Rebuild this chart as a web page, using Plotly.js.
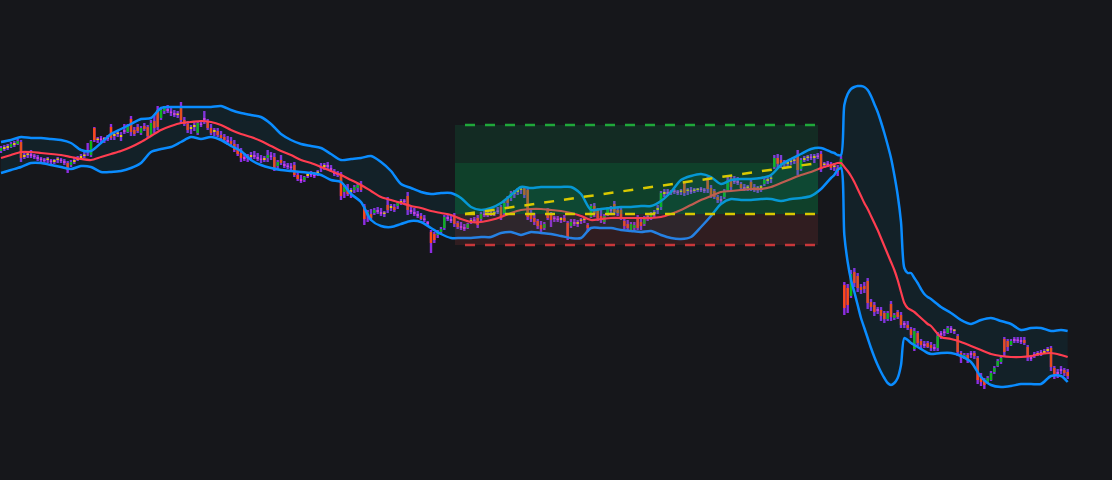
<!DOCTYPE html>
<html><head><meta charset="utf-8">
<script src="https://cdn.plot.ly/plotly-3.0.1.min.js"></script>
<style>html,body{margin:0;padding:0;background:#16171b;overflow:hidden}#chart{width:1112px;height:480px}</style>
</head><body><div id="chart"></div>
<script>
// ---- candle data (one entry per bar) ----
const openP = [
329,331,332,333,335,336,338,323,325,326,
324,323,321,320,320,319,318,320,320,319,
317,315,318,320,322,324,328,325,352,340,
341,340,342,353,344,346,343,350,348,361,
350,353,347,354,353,345,359,370,362,369,
371,368,367,365,374,360,356,351,353,347,
356,362,359,352,348,349,345,343,340,339,
336,332,327,323,322,323,325,323,321,320,
322,324,323,314,320,316,314,313,315,305,
301,300,304,306,305,307,312,313,315,312,
308,306,306,288,292,288,290,292,296,274,
264,266,267,270,268,266,275,272,273,274,
277,279,284,270,268,266,264,261,258,248,
246,245,248,252,263,261,264,257,254,253,
252,258,260,262,261,266,265,267,266,269,
273,267,282,282,286,288,290,292,290,266,
262,259,255,252,270,265,262,261,260,262,
257,254,258,256,259,260,255,263,274,270,
264,258,267,271,276,270,270,259,256,250,
252,263,258,256,262,262,266,270,273,286,
288,287,289,288,288,297,289,290,289,290,
291,290,300,292,289,283,281,283,290,302,
300,299,296,293,292,298,293,291,292,296,
299,301,313,322,320,317,316,318,319,325,
311,320,322,323,322,324,326,315,316,315,
313,312,313,195,192,184,208,204,193,194,
199,178,175,171,170,167,161,176,162,168,
165,157,155,151,131,147,139,136,137,135,
133,132,147,148,147,152,149,144,127,122,
125,127,127,122,104,99,97,100,108,114,
118,141,139,135,141,140,140,140,133,123,
126,125,128,127,129,132,112,108,111,110,
108];
const highP = [
334,335,336,338,339,341,340,327,328,330,
326,325,323,322,323,321,321,323,322,321,
319,320,322,324,326,328,337,340,353,343,
344,343,345,356,348,350,348,356,356,364,
353,356,354,357,355,360,365,374,372,374,
375,372,370,369,378,363,359,355,358,359,
359,369,361,356,352,352,349,346,344,343,
340,336,332,327,326,328,329,327,325,324,
330,328,327,320,325,319,317,317,318,308,
305,304,308,309,308,310,317,317,318,315,
311,309,308,295,296,292,295,297,299,276,
270,271,272,273,272,269,283,276,276,279,
281,281,288,273,272,269,267,265,259,250,
248,250,253,265,266,265,267,259,258,256,
257,262,263,265,268,269,268,269,269,273,
275,279,284,289,290,292,293,294,292,270,
267,261,259,258,272,268,264,264,263,265,
259,261,261,260,262,263,257,276,277,272,
270,266,273,274,279,273,273,261,260,258,
258,265,262,264,265,268,270,275,289,291,
291,290,291,290,291,299,292,293,292,292,
293,292,303,295,291,285,284,291,303,304,
304,303,298,296,295,300,296,294,295,302,
303,304,325,326,325,320,319,321,322,330,
322,324,325,326,326,327,329,318,319,318,
317,315,324,198,196,210,212,207,196,198,
202,181,178,173,173,169,169,179,167,170,
168,159,159,153,152,149,141,139,139,138,
136,148,149,151,154,154,151,146,129,127,
127,129,129,124,107,102,104,109,114,121,
124,143,141,141,143,143,143,143,135,125,
128,129,130,131,133,134,114,111,114,112,
111];
const lowP = [
327,329,330,332,333,335,318,321,322,322,
321,319,318,316,317,316,316,317,317,315,
307,313,316,319,320,322,324,323,338,337,
338,337,339,340,340,343,339,346,347,344,
344,347,345,349,342,344,347,350,360,366,
367,364,363,362,357,354,347,346,349,345,
353,356,350,345,344,343,340,338,335,334,
328,324,318,319,318,320,321,319,317,318,
318,320,309,311,315,312,311,310,303,299,
297,298,302,303,302,304,308,310,311,308,
304,303,280,282,284,282,287,288,288,255,
258,259,265,266,264,263,267,269,268,271,
275,276,265,266,264,262,260,258,255,227,
237,242,246,250,259,257,253,251,250,249,
251,256,257,252,259,263,263,264,264,266,
260,265,272,279,282,285,286,282,260,258,
255,251,248,250,260,253,258,258,257,258,
240,252,254,253,256,257,248,262,263,259,
257,256,264,267,265,264,260,251,250,248,
249,250,250,254,259,260,262,266,270,283,
284,285,286,285,285,284,285,286,287,288,
288,287,287,282,281,277,276,281,288,290,
296,295,290,289,289,289,288,287,288,294,
296,297,311,312,312,313,313,315,316,305,
309,318,319,320,317,321,308,312,313,310,
309,304,311,165,167,182,193,188,186,187,
171,169,164,166,159,157,159,159,160,161,
152,152,150,142,129,134,131,132,132,129,
129,129,141,144,146,147,146,124,117,121,
117,122,121,96,94,91,96,99,106,113,
116,124,129,134,137,137,136,135,119,119,
122,124,124,126,128,109,101,102,106,104,
101];
const closeP = [
332,333,334,336,337,339,322,325,326,324,
323,321,320,319,321,318,320,321,319,317,
310,318,320,322,324,325,330,339,340,341,
340,342,341,342,346,347,345,348,354,348,
346,349,352,351,344,357,352,353,370,372,
369,367,365,366,360,356,350,353,355,357,
355,360,352,347,350,345,342,340,338,336,
330,326,322,321,323,325,323,321,320,322,
325,323,312,318,317,314,313,312,305,301,
299,303,306,305,304,308,314,315,313,310,
306,305,284,293,286,290,293,295,290,261,
268,262,270,268,266,267,270,274,270,277,
279,278,270,268,266,264,261,260,256,237,
240,248,251,263,261,259,256,253,252,251,
256,260,259,255,266,265,267,266,268,268,
263,277,277,287,288,290,291,285,263,261,
258,254,251,256,262,260,261,260,262,259,
243,258,256,258,260,261,252,274,266,262,
261,264,271,269,268,267,262,254,252,256,
255,252,254,262,263,266,268,272,287,288,
286,289,288,287,289,287,290,288,290,291,
290,289,291,285,283,280,279,289,300,293,
298,297,292,291,293,291,290,292,294,300,
301,302,322,316,317,316,318,319,320,310,
320,322,323,322,324,323,312,316,315,312,
314,308,321,172,175,206,197,192,190,191,
177,173,168,169,164,161,167,163,165,163,
155,155,152,145,149,137,135,134,133,132,
131,144,145,147,152,150,150,128,122,125,
120,125,124,100,98,95,102,107,112,119,
122,128,133,139,139,139,138,137,123,121,
124,127,126,129,131,113,106,106,109,107,
104];

// ---- Bollinger band readings (bar index -> value) ----
const bandIdx = [
0,3,6,9,12,15,18,21,24,27,30,33,36,39,42,45,48,51,54,57,
60,63,66,69,72,75,78,81,84,87,90,93,96,99,102,105,108,111,114,117,
120,123,126,129,132,135,138,141,144,147,150,153,156,159,162,165,168,171,174,177,
180,183,186,189,192,195,198,201,204,207,210,213,216,219,222,225,228,231,234,237,
240,243,246,249,
250,251,252,253,254,255,256,257,258,259,260,261,262,263,264,265,266,267,268,269,
270,271,272,273,274,275,276,277,278,279,
282,285,288,291,294,297,300,303,306,309,312,315,318,320];
const upperBand = [
338,340,343,342,342,341,340,337,330,329,337,346,351,356,361,362,372,373,373,373,
373,373,374,370,367,365,363,356,346,340,336,334,332,326,320,321,322,324,318,309,
296,292,288,286,287,287,282,273,270,272,277,285,293,292,293,293,293,293,286,270,
271,272,273,273,274,274,279,288,300,304,306,303,296,300,301,301,302,305,315,321,
326,331,332,328,
327,325,325,375,386,391,393,394,394,393,390,384,376,368,358,347,335,322,305,285,
258,212,207,207,202,197,191,186,183,181,
173,167,160,156,160,162,159,156,150,152,152,149,150,149];
const middleBand = [
322,325,328,328,327,326,325,323,321,320,323,326,329,333,338,344,350,354,357,358,
359,358,355,350,346,343,339,334,329,325,320,317,313,309,305,300,295,289,283,280,
277,274,272,269,267,265,261,258,258,260,263,267,270,271,271,270,269,267,264,260,
261,262,262,262,262,262,263,266,270,275,280,284,288,289,290,291,291,293,297,301,
305,308,312,315,
316,317,317,313,309,304,298,291,284,277,271,264,257,250,242,234,226,218,210,200,
188,177,172,170,168,165,162,159,156,154,
143,141,138,134,130,126,124,123,123,124,126,127,125,123];
const lowerBand = [
307,310,313,317,317,315,313,311,314,313,308,308,309,312,317,328,331,333,338,343,
341,343,340,334,329,320,315,312,310,309,308,307,305,300,298,286,278,260,254,253,
256,259,258,252,246,242,242,242,243,243,247,248,245,248,247,246,244,242,242,252,
252,252,250,249,248,249,245,242,241,243,253,264,276,281,280,280,281,281,279,281,
282,284,291,302,
305,310,312,245,218,200,188,175,162,152,142,132,123,115,108,102,97,95,97,102,
115,142,140,137,135,133,131,129,127,126,
127,127,124,118,103,95,93,94,96,96,96,104,104,98];

// ---- trade setup levels ----
const stopLevel = 235;
const entryLevel = 266;
const target1 = 317;
const target2 = 355;

// ---- layout constants ----
const zoneStart = 136.2, entryStart = 139.2, zoneEnd = 245.1;
const BG = '#16171b';
const BAND = '#0a8cff';
const MID = '#ff3d50';
const UP = '#10b810', DOWN = '#ff4a12', UPSMALL = '#ffd000', DOWNSMALL = '#e43ce4', WICK = '#8e2de2';

const idx = openP.map((_, i) => i);
const wickLen = highP.map((h, i) => h - lowP[i]);
const bodyBase = openP.map((o, i) => Math.min(o, closeP[i]));
const bodyLen = openP.map((o, i) => Math.max(Math.abs(closeP[i] - o), 1.5));
const bodyColor = openP.map((o, i) => {
  const d = closeP[i] - o;
  if (Math.abs(d) <= 2) return d >= 0 ? UPSMALL : DOWNSMALL;
  return d > 0 ? UP : DOWN;
});

const traces = [
  {type:'scatter', mode:'lines', x:bandIdx, y:lowerBand, line:{color:BAND, width:2.5, shape:'spline', smoothing:0.8}, hoverinfo:'skip'},
  {type:'scatter', mode:'lines', x:bandIdx, y:upperBand, fill:'tonexty', fillcolor:'rgba(0,130,160,0.10)', line:{color:BAND, width:2.5, shape:'spline', smoothing:0.8}, hoverinfo:'skip'},
  {type:'scatter', mode:'lines', x:bandIdx, y:middleBand, line:{color:MID, width:2.2, shape:'spline', smoothing:0.8}, hoverinfo:'skip'},
  {type:'bar', x:idx, y:wickLen, base:lowP, width:0.72, marker:{color:WICK, line:{width:0}}, hoverinfo:'skip'},
  {type:'bar', x:idx, y:bodyLen, base:bodyBase, width:0.72, marker:{color:bodyColor, line:{width:0}}, hoverinfo:'skip'}
];

const dashed = '10px,10px';
const layout = {
  width:1112, height:480,
  margin:{l:0, r:0, t:0, b:0, pad:0},
  paper_bgcolor:BG, plot_bgcolor:BG,
  showlegend:false, barmode:'overlay',
  xaxis:{range:[-0.3, 333.3], visible:false, showgrid:false, zeroline:false},
  yaxis:{range:[0, 480], visible:false, showgrid:false, zeroline:false},
  shapes:[
    {type:'rect', xref:'x', yref:'y', x0:zoneStart, x1:zoneEnd, y0:entryLevel, y1:target2, fillcolor:'rgba(0,230,110,0.10)', line:{width:0}, layer:'above'},
    {type:'rect', xref:'x', yref:'y', x0:zoneStart, x1:zoneEnd, y0:entryLevel, y1:target1, fillcolor:'rgba(0,170,80,0.17)', line:{width:0}, layer:'above'},
    {type:'rect', xref:'x', yref:'y', x0:zoneStart, x1:zoneEnd, y0:stopLevel, y1:entryLevel, fillcolor:'rgba(200,70,70,0.15)', line:{width:0}, layer:'above'},
    {type:'line', xref:'x', yref:'y', x0:entryStart, x1:zoneEnd, y0:target2, y1:target2, line:{color:'#1fa83a', width:2.5, dash:dashed}, layer:'above'},
    {type:'line', xref:'x', yref:'y', x0:entryStart, x1:zoneEnd, y0:entryLevel, y1:entryLevel, line:{color:'#d8c800', width:2.5, dash:dashed}, layer:'above'},
    {type:'line', xref:'x', yref:'y', x0:entryStart, x1:zoneEnd, y0:stopLevel, y1:stopLevel, line:{color:'#c8373a', width:2.5, dash:dashed}, layer:'above'},
    {type:'line', xref:'x', yref:'y', x0:entryStart, x1:zoneEnd, y0:entryLevel, y1:target1, line:{color:'#d8c800', width:2.5, dash:dashed}, layer:'above'}
  ]
};

Plotly.newPlot('chart', traces, layout, {staticPlot:true, displayModeBar:false});
</script>
</body></html>
